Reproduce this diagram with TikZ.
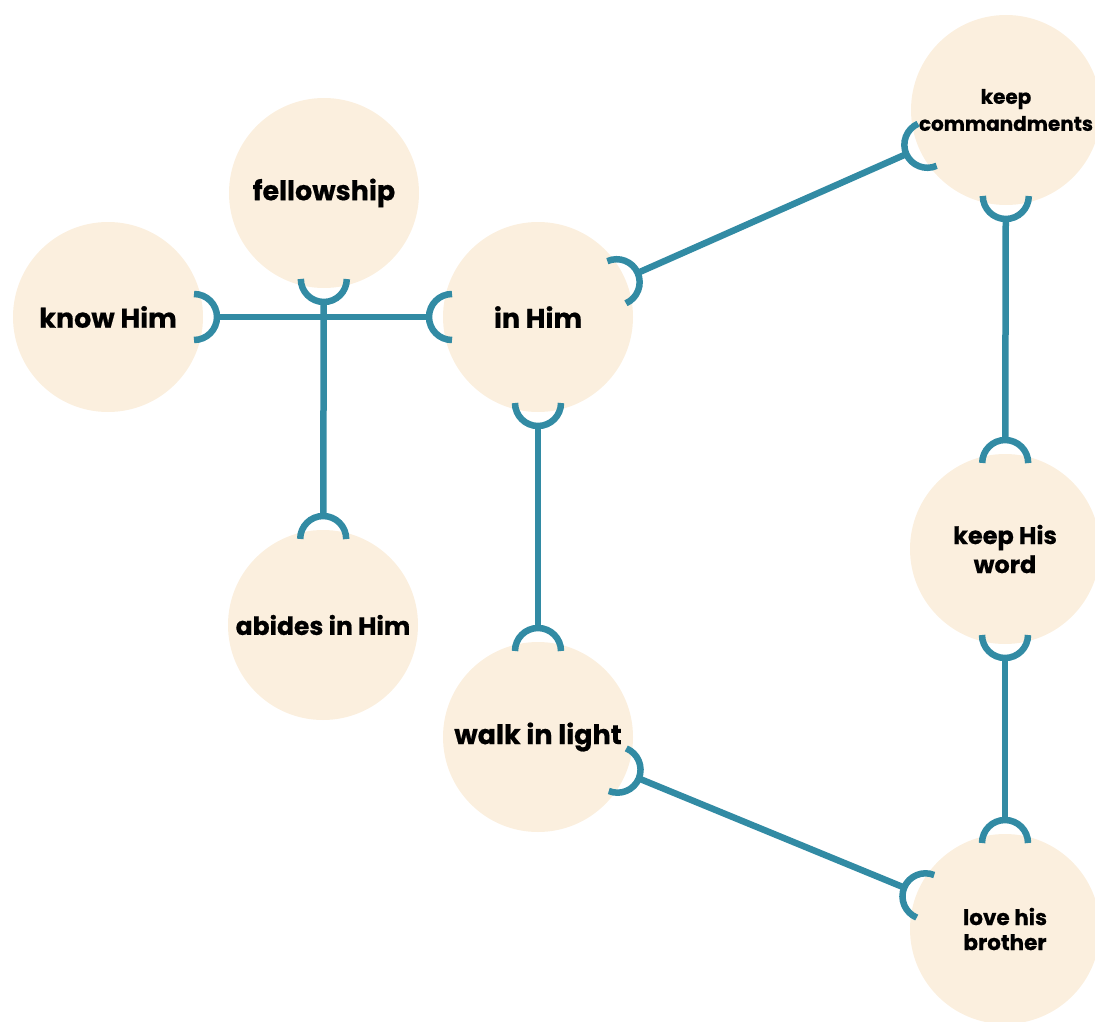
\documentclass[tikz,border=0pt]{standalone}
\usepackage{fontspec}
\setmainfont{Poppins}[BoldFeatures={FakeBold=0.6}]
\usetikzlibrary{calc}
\definecolor{cream}{RGB}{251,239,222}
\definecolor{teal}{RGB}{50,139,164}
\tikzset{
  bubble/.style={circle, fill=cream, minimum size=190pt, inner sep=0pt, align=center, font=\bfseries},
  big/.style={font=\bfseries\fontsize{27}{30}\selectfont},
  conn/.style={draw=teal, line width=6.5pt},
}
\newcommand\sockarc[2]{%
  \draw[conn] let \p1=($(#2)-(#1)$), \n1={atan2(\y1,\x1)} in
    ($(#1)!86pt!(#2)$) ++(\n1-90:23pt) arc[start angle=\n1-90, end angle=\n1+90, radius=23pt];
}
\newcommand\link[2]{%
  \sockarc{#1}{#2}\sockarc{#2}{#1}%
  \draw[conn] ($(#1)!109pt!(#2)$) -- ($(#2)!109pt!(#1)$);
}
\begin{document}
\begin{tikzpicture}[x=1pt,y=-1pt]
\useasboundingbox (0,0) rectangle (1095,1022);
\node[bubble,big] (know) at (108,317) {know Him};
\node[bubble,big] (fell) at (324,193) {fellowship};
\node[bubble,big] (in) at (538,317) {in Him};
\node[bubble,font=\bfseries\fontsize{25}{30}\selectfont] (abide) at (323,625) {abides in Him};
\node[bubble,big] (walk) at (538,737) {walk in light};
\node[bubble,font=\bfseries\fontsize{20}{27}\selectfont] (cmd) at (1006,110) {keep\\commandments};
\node[bubble,font=\bfseries\fontsize{24}{29}\selectfont] (word) at (1005,549) {keep His\\word};
\node[bubble,font=\bfseries\fontsize{21.5}{25}\selectfont] (love) at (1005,929) {love his\\brother};
\link{know}{in}
\link{fell}{abide}
\link{in}{walk}
\link{in}{cmd}
\link{cmd}{word}
\link{word}{love}
\link{walk}{love}
\end{tikzpicture}
\end{document}
